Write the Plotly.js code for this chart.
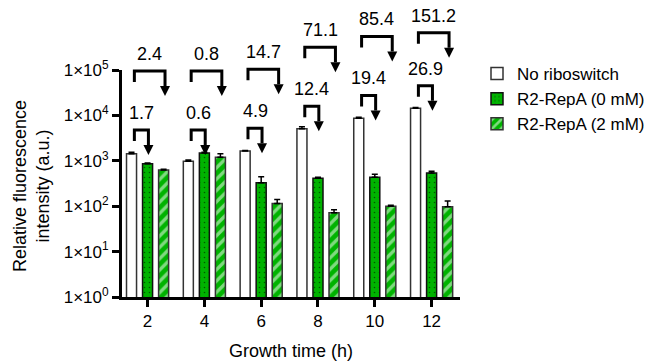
<!DOCTYPE html>
<html>
<head>
<meta charset="utf-8">
<script src="https://cdn.plot.ly/plotly-3.0.1.min.js"></script>
<style>html,body{margin:0;padding:0;background:#fff;}#chart{width:658px;height:363px;}</style>
</head>
<body>
<div id="chart"></div>
<script>
// ---- data ----
const times = [2, 4, 6, 8, 10, 12];
const noRiboswitch = [1430, 980, 1640, 5050, 8700, 14300];
const noRiboswitchErr = [110, 60, 50, 550, 400, 700];
const repA0 = [860, 1480, 330, 412, 435, 540];
const repA0Err = [30, 60, 115, 20, 70, 50];
const repA2 = [630, 1200, 115, 72, 100, 97];
const repA2Err = [20, 230, 26, 12, 5, 34];
const foldLow = ['1.7', '0.6', '4.9', '12.4', '19.4', '26.9'];   // No riboswitch / R2-RepA (0 mM)
const foldHigh = ['2.4', '0.8', '14.7', '71.1', '85.4', '151.2']; // No riboswitch / R2-RepA (2 mM)
const yTickVals = [1, 10, 100, 1000, 10000, 100000];
const yTickText = ['1×10<sup>0</sup>', '1×10<sup>1</sup>', '1×10<sup>2</sup>', '1×10<sup>3</sup>', '1×10<sup>4</sup>', '1×10<sup>5</sup>'];

// ---- layout constants ----
const W = 658, H = 363;
const FONT = 'Liberation Sans, Arial, sans-serif';
const GREEN = '#00b300';
const xRange = [1.1, 13.0];
const yRange = [0, 5];
const xDom = [122 / W, 460 / W];
const yDom = [(H - 297) / H, (H - 70) / H];
const bargap = 0.153, bargroupgap = 0.375;
const slot = 2 * (1 - bargap) / 3;

function xp(v) { return xDom[0] + (v - xRange[0]) / (xRange[1] - xRange[0]) * (xDom[1] - xDom[0]); }
function yp(lv) { return yDom[0] + (lv - yRange[0]) / (yRange[1] - yRange[0]) * (yDom[1] - yDom[0]); }
const pxX = 1 / W, pxY = 1 / H;

const errStyle = (arr) => ({type: 'data', array: arr, arrayminus: arr.map(() => 0), symmetric: false,
  visible: true, color: '#000', thickness: 1.5, width: 3});

const traces = [
  {type: 'bar', name: 'No riboswitch', x: times, y: noRiboswitch, error_y: errStyle(noRiboswitchErr),
   marker: {color: '#ffffff', line: {color: '#333', width: 1.5}}, legendgroup: 'a'},
  {type: 'bar', name: 'R2-RepA (0 mM)', x: times, y: repA0, error_y: errStyle(repA0Err),
   marker: {color: GREEN, line: {color: '#111', width: 1.5},
     pattern: {shape: '.', fillmode: 'overlay', fgcolor: '#000', size: 5, solidity: 0.08}}, legendgroup: 'b'},
  {type: 'bar', name: 'R2-RepA (2 mM)', x: times, y: repA2, error_y: errStyle(repA2Err),
   marker: {color: GREEN, line: {color: '#333', width: 1.5},
     pattern: {shape: '/', fillmode: 'overlay', fgcolor: '#ffffff', size: 8, solidity: 0.42}}, legendgroup: 'c'}
];

// ---- fold-change brackets, placed from the data ----
const shapes = [], annotations = [];
function bracket(x1, x2, topLv, label) {
  const yTop = yp(topLv);
  const yLeft = yTop - 11 * pxY;
  const yTip = yTop - 25 * pxY;
  const yBase = yTip + 10 * pxY;
  const X1 = xp(x1), X2 = xp(x2);
  shapes.push({type: 'path', xref: 'paper', yref: 'paper',
    path: `M${X1},${yLeft} L${X1},${yTop} L${X2},${yTop} L${X2},${yBase}`,
    line: {color: '#000', width: 3}});
  shapes.push({type: 'path', xref: 'paper', yref: 'paper',
    path: `M${X2 - 5 * pxX},${yBase} L${X2 + 5 * pxX},${yBase} L${X2},${yTip} Z`,
    fillcolor: '#000', line: {color: '#000', width: 0}});
  annotations.push({xref: 'paper', yref: 'paper', x: (X1 + X2) / 2, y: yTop + 17 * pxY,
    text: label, showarrow: false, xanchor: 'center', yanchor: 'middle',
    font: {family: FONT, size: 18, color: '#000'}});
}
times.forEach((t, i) => {
  const low = Math.max(Math.log10(noRiboswitch[i]) + 0.5, 3.68);
  const high = Math.min(low + 1.3, 5.82);
  const xWhite = t - slot + 0.1;
  bracket(xWhite, t + 0.03, low, foldLow[i]);
  bracket(xWhite, t + slot + 0.05, high, foldHigh[i]);
});

annotations.push({xref: 'paper', yref: 'paper', x: 32 / W, y: 1 - 186 / H, textangle: -90,
  text: 'Relative fluorescence<br>intensity (a.u.)', showarrow: false, xanchor: 'center', yanchor: 'middle',
  font: {family: FONT, size: 18, color: '#000'}});
annotations.push({xref: 'paper', yref: 'paper', x: (xDom[0] + xDom[1]) / 2, y: 1 - 351 / H,
  text: 'Growth time (h)', showarrow: false, xanchor: 'center', yanchor: 'middle',
  font: {family: FONT, size: 18, color: '#000'}});

const layout = {
  width: W, height: H,
  margin: {l: 0, r: 0, t: 0, b: 0, pad: 0},
  paper_bgcolor: '#fff', plot_bgcolor: '#fff',
  font: {family: FONT, size: 17, color: '#000'},
  barmode: 'group', bargap: bargap, bargroupgap: bargroupgap,
  xaxis: {domain: xDom, range: xRange, tickvals: times, ticktext: times.map(String),
    showline: true, linecolor: '#000', linewidth: 3, ticks: 'outside', ticklen: 7, tickwidth: 3,
    tickcolor: '#000', showgrid: false, zeroline: false, automargin: false,
    tickfont: {family: FONT, size: 17}},
  yaxis: {domain: yDom, type: 'log', range: yRange, tickvals: yTickVals, ticktext: yTickText,
    showline: true, linecolor: '#000', linewidth: 3, ticks: 'outside', ticklen: 7, tickwidth: 3,
    tickcolor: '#000', showgrid: false, zeroline: false, automargin: false,
    tickfont: {family: FONT, size: 17}},
  showlegend: true,
  legend: {x: 477 / W, y: 1 - 56 / H, xanchor: 'left', yanchor: 'top', font: {family: FONT, size: 17},
    tracegroupgap: 6, bgcolor: 'rgba(0,0,0,0)', traceorder: 'normal'},
  shapes: shapes, annotations: annotations
};

Plotly.newPlot('chart', traces, layout, {displayModeBar: false, staticPlot: true});
</script>
</body>
</html>
